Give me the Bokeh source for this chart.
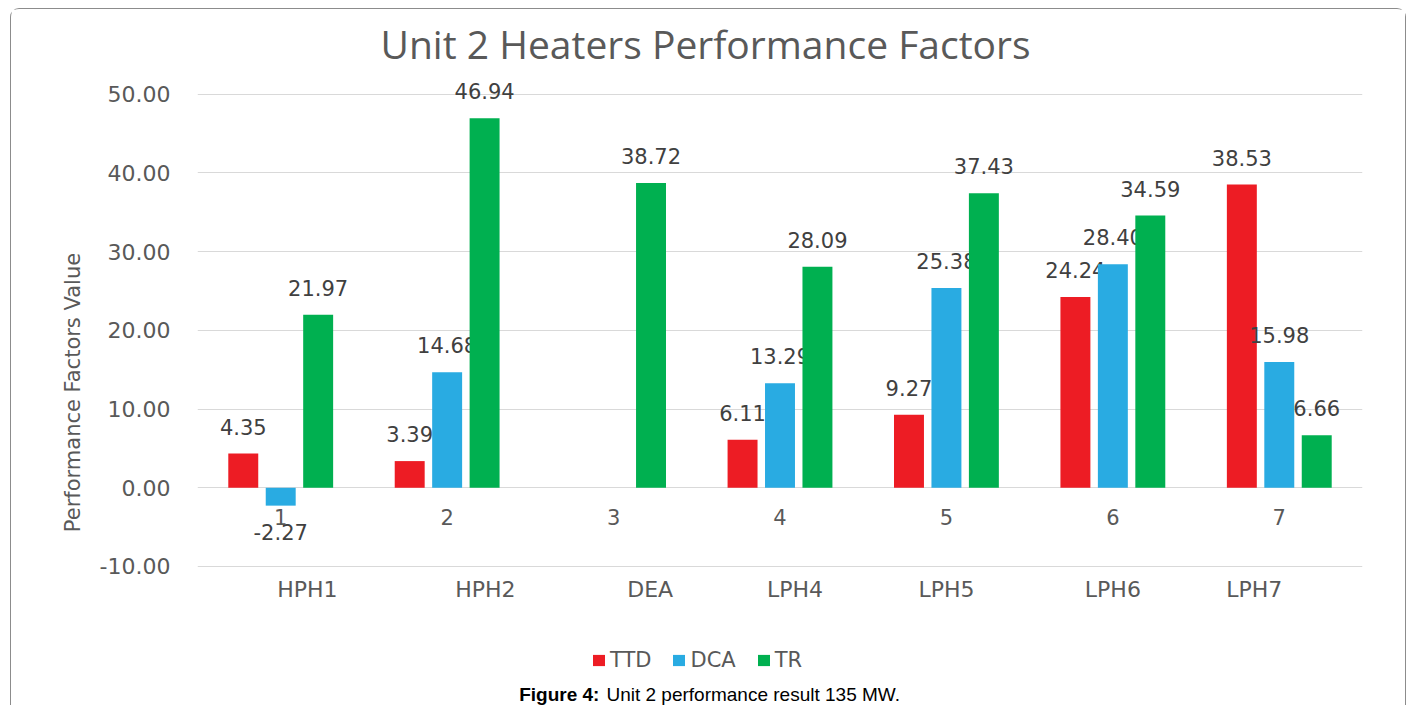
import numpy as np
from bokeh.plotting import figure
from bokeh.models import (ColumnDataSource, Range1d, FixedTicker, NumeralTickFormatter,
                          Legend, LegendItem)
from bokeh.core.properties import value
from bokeh.embed import file_html
from bokeh.resources import INLINE

# ---------------- data ----------------
categories = ["1", "2", "3", "4", "5", "6", "7"]
heaters = ["HPH1", "HPH2", "DEA", "LPH4", "LPH5", "LPH6", "LPH7"]
ttd = [4.35, 3.39, None, 6.11, 9.27, 24.24, 38.53]
dca = [-2.27, 14.68, None, 13.29, 25.38, 28.40, 15.98]
tr = [21.97, 46.94, 38.72, 28.09, 37.43, 34.59, 6.66]
y_ticks = [-10, 0, 10, 20, 30, 40, 50]
title_text = "Unit 2 Heaters Performance Factors"
y_title = "Performance Factors Value"
caption_bold = "Figure 4:"
caption_rest = "Unit 2 performance result 135 MW."

# ---------------- layout / style constants ----------------
HEATER_SHIFT = [0.16, 0.23, 0.22, 0.09, 0.0, 0.0, -0.15]
BAR_W = 0.18
DODGE = 0.225
TXT = "#595959"
LBL = "#404040"
FONT = "DejaVu Sans"
Y_MIN, Y_MAX = -27.79, 52
CAPTION_X = 2.915
CAPTION_Y = -26.26

p = figure(width=1396, height=697, output_backend="svg", toolbar_location=None,
           x_range=Range1d(0.5, 7.5), y_range=Range1d(Y_MIN, Y_MAX),
           min_border_left=186, min_border_right=45, min_border_top=69,
           min_border_bottom=0)
p.outline_line_color = None
p.background_fill_color = "white"
p.border_fill_color = "white"
p.styles = {"border": "1px solid #8c8c8c", "border-bottom": "none",
            "border-radius": "9px 9px 0 0", "margin": "8px 0 0 10px"}

p.title.text = title_text
p.title.text_font = "Open Sans"
p.title.text_font_size = "39px"
p.title.text_font_style = "normal"
p.title.text_color = TXT
p.title.text_line_height = 0.9
p.title.align = "left"
p.title.vertical_align = "top"
p.title.offset = 183
p.title.standoff = 13

# y axis
p.yaxis.ticker = FixedTicker(ticks=y_ticks)
p.yaxis.formatter = NumeralTickFormatter(format="0.00")
p.yaxis.axis_line_color = None
p.yaxis.major_tick_line_color = None
p.yaxis.minor_tick_line_color = None
p.yaxis.major_label_text_font = FONT
p.yaxis.major_label_text_font_size = "22px"
p.yaxis.major_label_text_color = TXT
p.yaxis.major_label_standoff = 21
p.yaxis.axis_label = y_title
p.yaxis.axis_label_text_font = FONT
p.yaxis.axis_label_text_font_size = "21px"
p.yaxis.axis_label_text_font_style = "normal"
p.yaxis.axis_label_text_color = TXT
p.yaxis.axis_label_standoff = 12

p.xaxis.visible = False
p.xgrid.visible = False
p.ygrid.ticker = FixedTicker(ticks=y_ticks)
p.ygrid.grid_line_color = "#D9D9D9"
p.ygrid.grid_line_width = 1.2

series = [("TTD", ttd, "#ED1C24", -DODGE),
          ("DCA", dca, "#29ABE2", 0.0),
          ("TR", tr, "#00B050", DODGE)]
items = []
for name, vals, color, off in series:
    idx = [i for i, v in enumerate(vals) if v is not None]
    ys = [vals[i] for i in idx]
    src = ColumnDataSource(dict(
        x=[i + 1 + off for i in idx],
        top=ys,
        label=[f"{v:.2f}" for v in ys],
        yoff=[-27 if v >= 0 else 26 for v in ys],
    ))
    r = p.vbar(x="x", top="top", bottom=0, width=BAR_W, source=src,
               fill_color=color, line_color=None)
    p.text(x="x", y="top", text="label", y_offset="yoff", source=src,
           text_font=value(FONT), text_font_size="21px", text_color=LBL,
           text_align="center", text_baseline="alphabetic")
    items.append(LegendItem(label=name, renderers=[r]))

n = len(categories)
# category numbers at the zero line
p.text(x=[i + 1 for i in range(n)], y=[0] * n,
       text=categories, y_offset=29, text_font=value(FONT), text_font_size="21px",
       text_color=TXT, text_align="center", text_baseline="alphabetic")
# heater names under the -10 line
p.text(x=[i + 1 + s for i, s in enumerate(HEATER_SHIFT)], y=[y_ticks[0]] * n,
       text=heaters, y_offset=23, text_font=value(FONT), text_font_size="22px",
       text_color=TXT, text_align="center", text_baseline="alphabetic")

# caption
p.text(x=[CAPTION_X], y=[CAPTION_Y], text=[caption_bold], text_font=value("Liberation Sans"),
       text_font_size="19px", text_font_style="bold", text_color="#000000",
       text_align="right", text_baseline="middle")
p.text(x=[CAPTION_X], y=[CAPTION_Y], text=[caption_rest], x_offset=7,
       text_font=value("Liberation Sans"),
       text_font_size="19px", text_color="#000000",
       text_align="left", text_baseline="middle")

legend = Legend(items=items, orientation="horizontal", location=(394, 34),
                glyph_width=15, glyph_height=14, label_standoff=4, spacing=20,
                label_text_font=FONT, label_text_font_size="21px",
                label_text_color=TXT, border_line_color=None,
                background_fill_alpha=0, padding=0, margin=0)
p.add_layout(legend, "center")

open("out.html", "w").write(file_html(p, INLINE))
